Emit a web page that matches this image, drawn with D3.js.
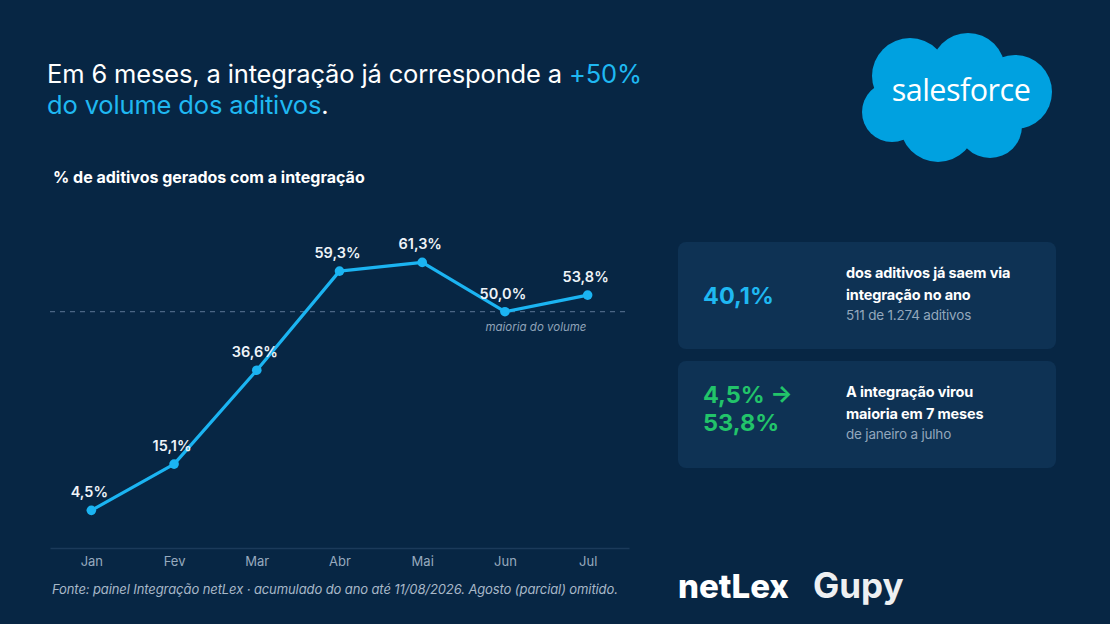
<!DOCTYPE html>
<html>
<head>
<meta charset="utf-8">
<script src="https://cdn.jsdelivr.net/npm/d3@7"></script>
<style>
    html, body { margin: 0; padding: 0; background: #072644; }
    svg { display: block; font-family: "Inter", "Lato", sans-serif; }
</style>
</head>
<body>
<svg id="chart" width="1110" height="624"></svg>
<script>
// data
const months = ["Jan", "Fev", "Mar", "Abr", "Mai", "Jun", "Jul"];
const shares = [4.5, 15.1, 36.6, 59.3, 61.3, 50.0, 53.8];
const majorityLine = 50;

const cardOne = { big: ["40,1%"], lines: ["dos aditivos já saem via", "integração no ano"], note: "511 de 1.274 aditivos" };
const cardTwo = { big: ["4,5% →", "53,8%"], lines: ["A integração virou", "maioria em 7 meses"], note: "de janeiro a julho" };

const fmt = v => d3.format(".1f")(v).replace(".", ",") + "%";

const svg = d3.select("#chart");
svg.append("rect").attr("width", 1110).attr("height", 624).attr("fill", "#072644");

// title
const title = svg.append("text").attr("x", 47).attr("y", 83)
    .attr("font-size", 25.5).attr("fill", "#ffffff").attr("letter-spacing", -0.15);
title.append("tspan").text("Em 6 meses, a integração já corresponde a ");
title.append("tspan").attr("fill", "#1fb8f2").text("+50%");
const title2 = svg.append("text").attr("x", 47).attr("y", 114)
    .attr("font-size", 25.5).attr("fill", "#1fb8f2").attr("letter-spacing", -0.15);
title2.append("tspan").text("do volume dos aditivos");
title2.append("tspan").attr("fill", "#ffffff").text(".");

svg.append("text").attr("x", 53).attr("y", 183)
    .attr("font-size", 16).attr("font-weight", 700).attr("fill", "#ffffff")
    .text("% de aditivos gerados com a integração");

// chart
const x = d3.scalePoint().domain(months).range([50, 629]).padding(0.5);
const y = d3.scaleLinear().domain([0, 70]).range([530, 224.4]);
const plotBottom = 548;

const xAxis = svg.append("g")
    .attr("transform", `translate(0,${plotBottom})`)
    .call(d3.axisBottom(x).tickSize(0).tickPadding(9));
xAxis.select(".domain").attr("stroke", "#1b3a5a").attr("stroke-width", 1.5);
xAxis.selectAll("text").attr("fill", "#97aabe").attr("font-size", 13)
    .attr("font-family", "Inter, sans-serif");

svg.append("line")
    .attr("x1", 50).attr("x2", 629)
    .attr("y1", y(majorityLine)).attr("y2", y(majorityLine))
    .attr("stroke", "#4a6584").attr("stroke-width", 1.2)
    .attr("stroke-dasharray", "5,5");

svg.append("text")
    .attr("x", x("Jun") + 31).attr("y", y(majorityLine) + 19)
    .attr("text-anchor", "middle").attr("font-size", 11.5)
    .attr("font-style", "italic").attr("fill", "#8fa3b8")
    .text("maioria do volume");

const line = d3.line().x((d, i) => x(months[i])).y(d => y(d));
svg.append("path").datum(shares)
    .attr("d", line).attr("fill", "none")
    .attr("stroke", "#1bb4f2").attr("stroke-width", 3.2)
    .attr("stroke-linejoin", "round");

svg.selectAll(".dot").data(shares).enter().append("circle")
    .attr("class", "dot")
    .attr("cx", (d, i) => x(months[i])).attr("cy", d => y(d))
    .attr("r", 4.8).attr("fill", "#1bb4f2");

svg.selectAll(".lbl").data(shares).enter().append("text")
    .attr("class", "lbl")
    .attr("x", (d, i) => x(months[i]) - 2).attr("y", d => y(d) - 13)
    .attr("text-anchor", "middle").attr("font-size", 14.5)
    .attr("font-weight", 600).attr("fill", "#eef3f8")
    .text(d => fmt(d));

svg.append("text").attr("x", 52).attr("y", 594)
    .attr("font-size", 13).attr("font-style", "italic").attr("fill", "#a8b8c8")
    .attr("letter-spacing", -0.1)
    .text("Fonte: painel Integração netLex · acumulado do ano até 11/08/2026. Agosto (parcial) omitido.");

// cards
function drawCard(top, card, bigColor) {
    svg.append("rect").attr("x", 678).attr("y", top)
        .attr("width", 378).attr("height", 107).attr("rx", 8)
        .attr("fill", "#0e3254");
    const bigTop = card.big.length === 1 ? top + 62 : top + 42;
    card.big.forEach((t, i) => {
        svg.append("text").attr("x", 703).attr("y", bigTop + i * 28)
            .attr("font-size", 23.5).attr("font-weight", 700).attr("fill", bigColor)
            .text(t);
    });
    card.lines.forEach((t, i) => {
        svg.append("text").attr("x", 846).attr("y", top + 36 + i * 21.5)
            .attr("font-size", 14.5).attr("font-weight", 700).attr("fill", "#ffffff")
            .attr("letter-spacing", -0.15)
            .text(t);
    });
    svg.append("text").attr("x", 846).attr("y", top + 78)
        .attr("font-size", 13.5).attr("fill", "#93a7bc").attr("letter-spacing", -0.2)
        .text(card.note);
}
drawCard(242, cardOne, "#1fb8f2");
drawCard(361, cardTwo, "#22c46a");

// salesforce cloud
const cloud = svg.append("g").attr("fill", "#00a1e0");
[[910, 76, 38], [968, 70, 37], [1015, 92, 37], [892, 112, 30], [938, 124, 38], [990, 126, 32]]
    .forEach(c => cloud.append("circle").attr("cx", c[0]).attr("cy", c[1]).attr("r", c[2]));
cloud.append("rect").attr("x", 890).attr("y", 80).attr("width", 130).attr("height", 50);
svg.append("text").attr("x", 961).attr("y", 101)
    .attr("text-anchor", "middle").attr("font-size", 30.5)
    .attr("font-family", "Open Sans, sans-serif").attr("fill", "#ffffff")
    .attr("letter-spacing", -0.5)
    .text("salesforce");

// partner logos
svg.append("text").attr("x", 678).attr("y", 598)
    .attr("font-size", 33).attr("font-weight", 800).attr("fill", "#ffffff")
    .attr("letter-spacing", 0)
    .text("netLex");
svg.append("text").attr("x", 813).attr("y", 598)
    .attr("font-size", 35).attr("font-weight", 700).attr("fill", "#eef0f2")
    .attr("letter-spacing", 0)
    .text("Gupy");
</script>
</body>
</html>
